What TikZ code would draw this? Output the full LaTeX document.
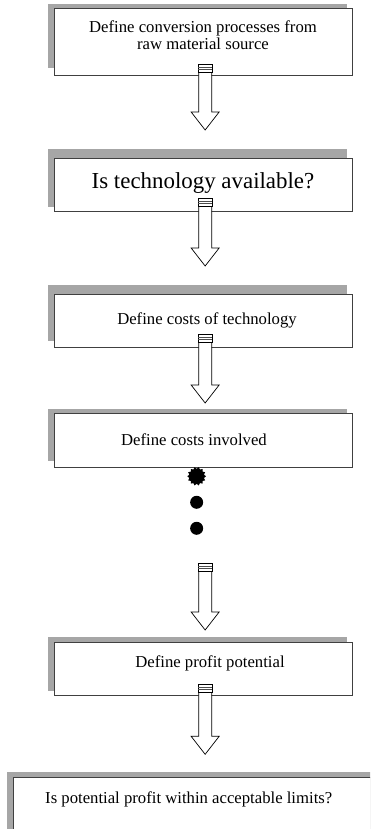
\documentclass[tikz,border=0pt]{standalone}
\usepackage{fontspec}
\setmainfont{Liberation Serif}
\usetikzlibrary{calc,shapes.geometric}
\definecolor{shadowgray}{HTML}{A6A6A6}
\definecolor{edgegray}{HTML}{404040}
\tikzset{
  framebox/.style={draw=edgegray, line width=1.3pt, fill=white, inner sep=0pt, anchor=north west},
  txt/.style={font=\fontsize{16.7}{19}\selectfont, inner sep=0pt, anchor=base},
  bigtxt/.style={font=\fontsize{22.9}{26}\selectfont, inner sep=0pt, anchor=base},
  arrowbody/.style={draw=black, line width=0.7pt, fill=white},
  stripeline/.style={draw=black!70, line width=0.6pt},
  dotmark/.style={circle, fill=black, minimum size=13pt, inner sep=0pt},
}
\newcommand\blockarrow[2]{%
  \draw[arrowbody] let \p1=(#1), \p2=(#2) in
    (\x2-6.5pt,\y1-8pt) -- (\x2-6.5pt,\y2+18pt) -- (\x2-14pt,\y2+18pt) -- (\x2,\y2)
    -- (\x2+14pt,\y2+18pt) -- (\x2+6.5pt,\y2+18pt) -- (\x2+6.5pt,\y1-8pt) -- cycle;
  \draw[arrowbody] let \p1=(#1) in (\x1-7pt,\y1) rectangle (\x1+7pt,\y1-8pt);
  \draw[stripeline] let \p1=(#1) in (\x1-7pt,\y1-2.7pt) -- (\x1+7pt,\y1-2.7pt)
    (\x1-7pt,\y1-5.3pt) -- (\x1+7pt,\y1-5.3pt);
}
\begin{document}
\begin{tikzpicture}[x=1pt,y=-1pt]
\useasboundingbox (0,0) rectangle (370,829);
\clip (0,0) rectangle (370,829);
% shadows
\fill[shadowgray] (48,4) rectangle (347,68);
\fill[shadowgray] (48,149) rectangle (347,207);
\fill[shadowgray] (48,285) rectangle (347,341);
\fill[shadowgray] (48,409) rectangle (347,461);
\fill[shadowgray] (48,637) rectangle (347,691);
\fill[shadowgray] (7,772) rectangle (400,860);
% boxes
\node[framebox, minimum width=298pt, minimum height=67pt] (b1) at (54,8) {};
\node[framebox, minimum width=298pt, minimum height=53pt] (b2) at (54,158) {};
\node[framebox, minimum width=298pt, minimum height=53pt] (b3) at (54,294) {};
\node[framebox, minimum width=298pt, minimum height=54pt] (b4) at (54,413) {};
\node[framebox, minimum width=298pt, minimum height=53pt] (b5) at (54,642) {};
\node[framebox, minimum width=407pt, minimum height=83pt] (b6) at (13,777) {};
% texts
\node[txt] (t1a) at (203,33) {Define conversion processes from};
\node[txt] (t1b) at (203,50) {raw material source};
\node[bigtxt] (t2) at (203,188) {Is technology available?};
\node[txt] (t3) at (207,324) {Define costs of technology};
\node[txt] (t4) at (194,445) {Define costs involved};
\node[txt] (t5) at (210,667) {Define profit potential};
\node[txt, anchor=base west] (t6) at (45,803) {Is potential profit within acceptable limits?};
% arrow anchors
\coordinate (a1s) at ([xshift=1.5pt,yshift=12pt]b1.south);
\coordinate (a1e) at ([xshift=1.5pt,yshift=28pt]b2.north);
\coordinate (a2s) at ([xshift=1.5pt,yshift=14pt]b2.south);
\coordinate (a2e) at ([xshift=1.5pt,yshift=28pt]b3.north);
\coordinate (a3s) at ([xshift=1.5pt,yshift=14pt]b3.south);
\coordinate (a3e) at ([xshift=1.5pt,yshift=10pt]b4.north);
\coordinate (a4s) at ([xshift=1.5pt,yshift=-95pt]b4.south);
\coordinate (a4e) at ([xshift=1.5pt,yshift=12pt]b5.north);
\coordinate (a5s) at ([xshift=1.5pt,yshift=12pt]b5.south);
\coordinate (a5e) at ([xshift=1.5pt,yshift=-58pt]b5.south);
\blockarrow{a1s}{a1e}
\blockarrow{a2s}{a2e}
\blockarrow{a3s}{a3e}
\blockarrow{a4s}{a4e}
\blockarrow{a5s}{a5e}
% dots
\node[star, star points=14, star point ratio=0.8, fill=black, minimum size=15pt, inner sep=0pt] (d1) at ([xshift=-7pt,yshift=-8pt]b4.south) {};
\node[dotmark] (d2) at ([xshift=-7pt,yshift=-34pt]b4.south) {};
\node[dotmark] (d3) at ([xshift=-7pt,yshift=-60pt]b4.south) {};
\end{tikzpicture}
\end{document}
